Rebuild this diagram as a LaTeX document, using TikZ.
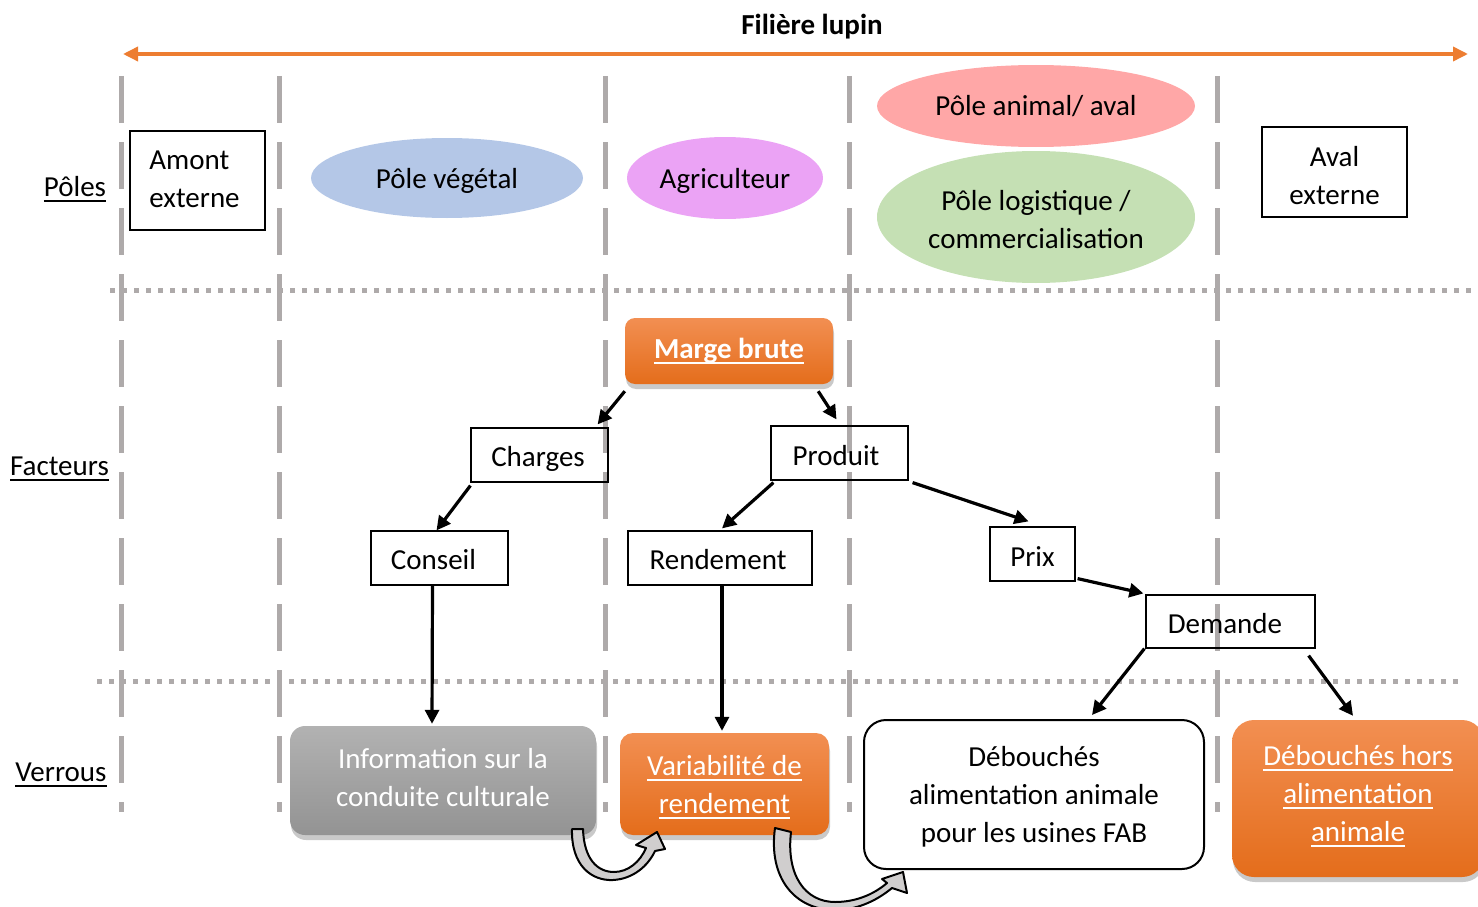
\documentclass[tikz,border=0pt]{standalone}
\usepackage{fontspec}
\setmainfont{Carlito}
\newcommand{\ulx}[1]{\leavevmode\setbox0\hbox{#1}\rlap{\rule[-5.5pt]{\wd0}{1.7pt}}\box0}
\newcommand{\firstln}[2]{\rule{0pt}{#1pt}#2}
\newcommand{\lastln}[2]{#2\rule[-#1pt]{0pt}{0pt}}
\usetikzlibrary{shapes.geometric,arrows.meta,calc,shadows}
\definecolor{vgray}{HTML}{AEAAAA}
\definecolor{lineor}{HTML}{ED7D31}
\definecolor{orTop}{HTML}{F28F52}
\definecolor{orBot}{HTML}{E46D1B}
\definecolor{grTop}{HTML}{B2B2B2}
\definecolor{grBot}{HTML}{939393}
\definecolor{cveg}{HTML}{B4C7E7}
\definecolor{cagri}{HTML}{EBA3F5}
\definecolor{canim}{HTML}{FFA7A7}
\definecolor{clog}{HTML}{C5E0B4}
\definecolor{cvarrow}{HTML}{D0CECE}
\tikzset{
  txt/.style={font=\fontsize{29}{38}\selectfont, inner sep=0pt},
  plainbox/.style={txt, draw=black, line width=1.2pt, rectangle},
  pole/.style={txt, ellipse, draw=none, align=center},
  shadowed/.style={drop shadow={shadow xshift=1pt, shadow yshift=-5pt, fill=black!70, opacity=0.3}},
  orangebox/.style={txt, rectangle, rounded corners=13pt, top color=orTop, bottom color=orBot, draw=none, text=white, align=center, shadowed},
  graybox/.style={txt, rectangle, rounded corners=15pt, top color=grTop, bottom color=grBot, draw=none, text=white, align=center, shadowed},
  flow/.style={line width=3.2pt, -{Triangle[length=14pt,width=14pt]}},
  vline/.style={vgray, line width=5pt, dash pattern=on 47pt off 19pt},
  hline/.style={vgray, line width=5pt, dash pattern=on 5pt off 7pt},
  rowlabel/.style={txt, anchor=base},
  curvearrow/.style={fill=cvarrow, draw=black, line width=2pt, line join=round},
  off/.style={text height=#1pt, text depth=4pt}
}
\begin{document}
\begin{tikzpicture}[x=1pt,y=-1pt]
\useasboundingbox (0,0) rectangle (1478,907);

% grid lines
\draw[hline] (110,290) -- (1478,290);
\draw[hline] (97,681) -- (1460,681);
\foreach \xx in {121,279,605,849,1217} {\draw[vline] (\xx,76) -- (\xx,812);}

% title and axis
\node[txt, font=\fontsize{29}{38}\selectfont\bfseries, anchor=base] (title) at (812,35) {Filière lupin};
\coordinate (axL) at (123,54);
\coordinate (axR) at (1468,54);
\draw[lineor, line width=3.5pt, {Triangle[length=15pt,width=14pt]}-{Triangle[length=15pt,width=14pt]}] (axL) -- (axR);

% row labels
\node[rowlabel] (lpoles) at (75,196) {\ulx{Pôles}};
\node[rowlabel] (lfact) at (59.5,475) {\ulx{Facteurs}};
\node[rowlabel] (lverr) at (61,781) {\ulx{Verrous}};

% poles
\node[plainbox, minimum width=135pt, minimum height=99pt, align=left] (amont) at (197.5,180.5) {\firstln{26}{Amont}\\\lastln{10}{externe\hspace*{6pt}}};
\node[pole, fill=cveg, minimum width=272pt, minimum height=80pt, off=25] (veg) at (447,178) {Pôle végétal};
\node[pole, fill=cagri, minimum width=196pt, minimum height=82pt, off=25] (agri) at (725,178) {Agriculteur};
\node[pole, fill=canim, minimum width=318pt, minimum height=82pt, off=23] (anim) at (1036,106) {Pôle animal/ aval};
\node[pole, fill=clog, minimum width=318pt, minimum height=132pt] (logi) at (1036,217) {\firstln{29}{Pôle logistique /}\\\lastln{4}{commercialisation}};
\node[plainbox, minimum width=145pt, minimum height=90pt, align=center] (aval) at (1334.5,172) {\firstln{30}{Aval}\\\lastln{3}{externe}};

% factors
\node[orangebox, minimum width=208pt, minimum height=66pt, rounded corners=10pt, font=\fontsize{29}{38}\selectfont\bfseries, off=19] (mb) at (729,351) {\ulx{Marge brute}};
\node[plainbox, minimum width=137pt, minimum height=54pt, off=27] (ch) at (539.5,455) {Charges\hspace*{3pt}};
\node[plainbox, minimum width=137pt, minimum height=54pt, off=29] (pr) at (839.5,453) {Produit\hspace*{7pt}};
\node[plainbox, minimum width=137pt, minimum height=54pt, off=27] (co) at (439.5,558) {Conseil\hspace*{12pt}};
\node[plainbox, minimum width=184pt, minimum height=54pt, off=27] (re) at (720,558) {Rendement\hspace*{4pt}};
\node[plainbox, minimum width=85pt, minimum height=54pt, off=29] (px) at (1032.5,554) {Prix};
\node[plainbox, minimum width=169pt, minimum height=53pt, off=28] (de) at (1230.5,621.5) {Demande\hspace*{11pt}};

% locks
\node[graybox, minimum width=306pt, minimum height=109pt] (info) at (443,780.5) {\firstln{26}{Information sur la}\\\lastln{12}{conduite culturale}};
\node[orangebox, minimum width=209pt, minimum height=102pt] (va) at (724.5,784) {\firstln{27}{\ulx{Variabilité de}}\\\lastln{6}{\ulx{rendement}}};
\node[txt, draw=black, line width=2pt, rounded corners=22pt, fill=white, align=center, minimum width=340pt, minimum height=149pt] (deb) at (1034,794.5) {\firstln{26}{Débouchés}\\alimentation animale\\\lastln{6}{pour les usines FAB}};
\node[orangebox, rounded corners=22pt, minimum width=252pt, minimum height=157pt] (hors) at (1358,798.5) {\firstln{26}{\ulx{Débouchés hors}}\\\ulx{alimentation}\\\lastln{16}{\ulx{animale}}};

% connectors
\draw[flow] ($(mb.south west)+(0,7)$) -- ($(ch.north east)+(-11,-3)$);
\draw[flow] ($(mb.south east)+(-15,7)$) -- ($(pr.north)+(-3,-6)$);
\draw[flow] ($(ch.south west)+(0,3)$) -- ($(co.north)+(-3,0)$);
\draw[flow] ($(pr.south west)+(3,2)$) -- ($(re.north)+(2,-2)$);
\draw[flow] ($(pr.south east)+(4,2)$) -- ($(px.north)+(-4,-5)$);
\draw[flow] ($(px.south east)+(2,-3)$) -- ($(de.north west)+(-2,-1)$);
\draw[flow] ($(co.south)+(-7,0)$) -- ($(info.north)+(-11,-2)$);
\draw[flow] ($(re.south)+(2,0)$) -- ($(va.north)+(-2.5,-2)$);
\draw[flow] ($(de.south west)+(-1,0)$) -- ($(deb.north)+(58,-4)$);
\draw[flow] ($(de.south east)+(-7,7)$) -- ($(hors.north)+(-5,-4)$);

% curved block arrows
\draw[curvearrow] (572,829) .. controls (571,866) and (592,881) .. (613,880)
  .. controls (633,879) and (648,866) .. (655,851)
  -- (665,849) -- (657,832) -- (636,845) -- (646,848)
  .. controls (640,862) and (628,872) .. (614,872)
  .. controls (598,872) and (584,860) .. (583,829) -- cycle;
\draw[curvearrow] (775,828) .. controls (768,878) and (795,910) .. (835,910)
  .. controls (860,910) and (880,898) .. (892,888)
  -- (907,893) -- (903,872) -- (882,879) -- (887,883)
  .. controls (873,895) and (855,902) .. (835,902)
  .. controls (805,902) and (786,875) .. (791,832) -- cycle;
\end{tikzpicture}
\end{document}
